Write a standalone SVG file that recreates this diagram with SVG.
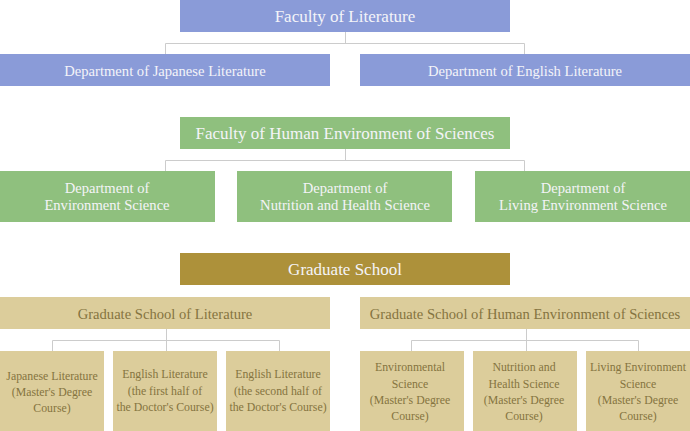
<svg xmlns="http://www.w3.org/2000/svg" width="690" height="431" viewBox="0 0 690 431">
<style>
text{font-family:"Liberation Serif","DejaVu Serif",serif;text-anchor:middle;dominant-baseline:central}
.b{fill:#8a9bd8}.g{fill:#8fc07e}.d{fill:#ad913a}.t{fill:#dccd9b}
.w{fill:#f4f4f8}.k{fill:#857440}
.h{font-size:17px}.m{font-size:14.6px}.s{font-size:11.8px}
.c{fill:none;stroke:#cccccc;stroke-width:1}
</style>
<rect width="690" height="431" fill="#ffffff"/>
<g id="connectors">
<path class="c" d="M345.5 32V43.5M165.5 54V43.5H524.5V54"/>
<path class="c" d="M345.5 149V160.5M165.5 171V160.5H524.5V171"/>
<path class="c" d="M166.5 329V340.5M52.5 351V340.5H279.5V351M166.5 340.5V351"/>
<path class="c" d="M526.5 329V340.5M411.5 351V340.5H638.5V351M526.5 340.5V351"/>
</g>
<g id="fac-lit"><rect class="b" x="180" y="0" width="330" height="32"/><text class="w h" x="345" y="16">Faculty of Literature</text></g>
<g id="dept-jp"><rect class="b" x="0" y="54" width="330" height="32"/><text class="w m" x="165" y="71">Department of Japanese Literature</text></g>
<g id="dept-en"><rect class="b" x="360" y="54" width="330" height="32"/><text class="w m" x="525" y="71">Department of English Literature</text></g>
<g id="fac-hum"><rect class="g" x="180" y="117" width="330" height="32"/><text class="w h" x="345" y="133">Faculty of Human Environment of Sciences</text></g>
<g id="dept-env"><rect class="g" x="0" y="171" width="215" height="51"/><text class="w m" x="107" y="188">Department of</text><text class="w m" x="107" y="205">Environment Science</text></g>
<g id="dept-nut"><rect class="g" x="237" y="171" width="215" height="51"/><text class="w m" x="345" y="188">Department of</text><text class="w m" x="345" y="205">Nutrition and Health Science</text></g>
<g id="dept-liv"><rect class="g" x="475" y="171" width="215" height="51"/><text class="w m" x="583" y="188">Department of</text><text class="w m" x="583" y="205">Living Environment Science</text></g>
<g id="grad"><rect class="d" x="180" y="253" width="330" height="32"/><text class="w h" x="345" y="269">Graduate School</text></g>
<g id="grad-lit"><rect class="t" x="0" y="297" width="330" height="32"/><text class="k m" x="165" y="314">Graduate School of Literature</text></g>
<g id="grad-hum"><rect class="t" x="360" y="297" width="330" height="32"/><text class="k m" x="525" y="314">Graduate School of Human Environment of Sciences</text></g>
<g id="c1"><rect class="t" x="0" y="351" width="104" height="80"/><text class="k s" x="52" y="376">Japanese Literature</text><text class="k s" x="52" y="392">(Master's Degree</text><text class="k s" x="52" y="408">Course)</text></g>
<g id="c2"><rect class="t" x="113" y="351" width="104" height="80"/><text class="k s" x="165" y="374">English Literature</text><text class="k s" x="165" y="391">(the first half of</text><text class="k s" x="165" y="407">the Doctor's Course)</text></g>
<g id="c3"><rect class="t" x="226" y="351" width="104" height="80"/><text class="k s" x="278" y="374">English Literature</text><text class="k s" x="278" y="391">(the second half of</text><text class="k s" x="278" y="407">the Doctor's Course)</text></g>
<g id="c4"><rect class="t" x="360" y="351" width="104" height="80"/><text class="k s" x="410" y="367">Environmental</text><text class="k s" x="410" y="384">Science</text><text class="k s" x="410" y="400">(Master's Degree</text><text class="k s" x="410" y="416">Course)</text></g>
<g id="c5"><rect class="t" x="473" y="351" width="104" height="80"/><text class="k s" x="524" y="367">Nutrition and</text><text class="k s" x="524" y="384">Health Science</text><text class="k s" x="524" y="400">(Master's Degree</text><text class="k s" x="524" y="416">Course)</text></g>
<g id="c6"><rect class="t" x="586" y="351" width="104" height="80"/><text class="k s" x="638" y="367">Living Environment</text><text class="k s" x="638" y="384">Science</text><text class="k s" x="638" y="400">(Master's Degree</text><text class="k s" x="638" y="416">Course)</text></g>
</svg>
